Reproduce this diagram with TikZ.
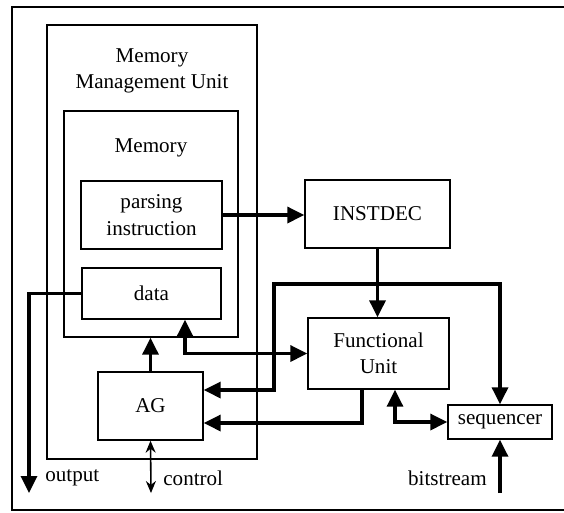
\documentclass[tikz,border=0pt]{standalone}
\usepackage{fontspec}
\setmainfont{Liberation Serif}
\usetikzlibrary{positioning,arrows.meta}

\begin{document}
\begin{tikzpicture}[
    x=0.02cm, y=-0.02cm,
    >={Triangle[length=0.34cm,width=0.32cm]},
    box/.style={
        rectangle,
        draw,
        line width=0.8pt,
        inner sep=0pt,
        align=center,
        font=\fontsize{12}{15}\selectfont
    },
    txt/.style={inner sep=0pt, align=center, font=\fontsize{12}{15}\selectfont},
    bus/.style={line width=1.9pt},
    ctrl/.style={line width=0.9pt, {Stealth[length=0.24cm,width=0.2cm]}-{Stealth[length=0.24cm,width=0.2cm]}}
]
\useasboundingbox (0,0) rectangle (564,512);

% open frame (no right edge)
\draw[line width=0.8pt] (564,7) -- (12,7) -- (12,510) -- (564,510);

% memory management unit and its parts
\node[box, minimum width=4.2cm, minimum height=8.68cm] (mmu) at (152,242) {};
\node[txt] (mmutitle) at (152,71) {Memory\\Management Unit};
\node[box, minimum width=3.48cm, minimum height=4.52cm] (mem) at (151,224) {};
\node[txt] (memtitle) at (151,148) {Memory};
\node[box, minimum width=2.82cm, minimum height=1.36cm] (parse) at (151.5,215) {parsing\\instruction};
\node[box, minimum width=2.78cm, minimum height=1.02cm] (data) at (151.5,293.5) {data};
\node[box, minimum width=2.1cm, minimum height=1.36cm] (ag) at (150.5,406) {AG};

% decoder, functional unit, sequencer
\node[box, minimum width=2.9cm, minimum height=1.36cm] (instdec) at (377.5,214) {INSTDEC};
\node[box, minimum width=2.82cm, minimum height=1.42cm] (fu) at (378.5,353.5) {Functional\\Unit};
\node[box, minimum width=2.08cm, minimum height=0.68cm] (seq) at (500,422) {sequencer};

% free ends
\coordinate (out) at (29,493);
\coordinate (ctl) at (151,493);
\coordinate (bits) at (500,493);
\coordinate (jog) at (274,284);

\node[txt, anchor=west] (outlbl) at (45,478) {output};
\node[txt, anchor=west] (ctllbl) at (163,478) {control};
\node[txt, anchor=east] (bitslbl) at (487,478) {bitstream};

% connections
\draw[bus,->] (parse.east) -- (parse.east -| instdec.west);
\draw[bus,->] (instdec.south) -- (instdec.south |- fu.north);
\draw[bus,->] (data.west) -| (out);
\draw[bus,->] (ag.north) -- (ag.north |- mem.south);
\draw[bus,<->] ([xshift=0.67cm]data.south) |- (fu.west);
\draw[bus,<->] ([yshift=0.32cm]ag.east) -| (jog) -| (seq.north);
\draw[bus,->] ([xshift=-0.33cm]fu.south) |- ([yshift=-0.34cm]ag.east);
\draw[bus,<->] ([xshift=0.33cm]fu.south) |- (seq.west);
\draw[bus,->] (bits) -- (seq.south);
\draw[ctrl] (ag.south) -- (ctl);

\end{tikzpicture}
\end{document}
